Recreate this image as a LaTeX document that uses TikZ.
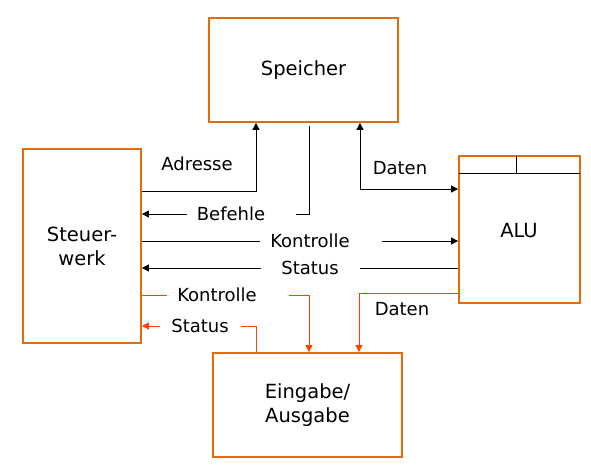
\documentclass[tikz,border=0pt]{standalone}
\usepackage{fontspec}
\setmainfont{DejaVu Sans}
\usetikzlibrary{arrows.meta,calc}
\definecolor{boxorange}{RGB}{228,108,10}
\definecolor{sigred}{RGB}{255,64,0}

\begin{document}
\begin{tikzpicture}[x=1pt,y=-1pt,
  box/.style={draw=boxorange,line width=1.8pt,align=center,font=\fontsize{19.5}{24}\selectfont},
  lbl/.style={font=\fontsize{18}{22}\selectfont,inner sep=0pt},
  sig/.style={line width=0.9pt},
  tip/.style={-{Triangle[length=7pt,width=7pt]}},
  dtip/.style={{Triangle[length=7pt,width=7pt]}-{Triangle[length=7pt,width=7pt]}}]
\useasboundingbox (0,0) rectangle (591,465);
\node (speicher) at (303.5,70) [box,minimum width=189pt,minimum height=104pt] {Speicher};
\node (steuer) at (82,246) [box,minimum width=118pt,minimum height=194pt] {Steuer-\\werk};
\node (alu) at (519.5,229.5) [box,minimum width=121pt,minimum height=147pt] {};
\node (alutext) at (519,231) [font=\fontsize{19.5}{24}\selectfont] {ALU};
\node (eingabe) at (307.5,405) [box,minimum width=189pt,minimum height=104pt] {Eingabe/\\Ausgabe};
\draw [sig] ([xshift=0.9pt]alu.north west |- 0,173) -- ([xshift=-0.9pt]alu.north east |- 0,173);
\draw [sig] ([yshift=-0.9pt]516,0 |- alu.north) -- (516,173);

\node (adresse) at (197,164) [lbl] {Adresse};
\node (befehle) at (231,214) [lbl] {Befehle};
\node (datenOben) at (400,168) [lbl] {Daten};
\node (kontrolle) at (310,241) [lbl] {Kontrolle};
\node (status) at (310,268) [lbl] {Status};
\node (kontrolleIO) at (217,295) [lbl] {Kontrolle};
\node (statusIO) at (200,326) [lbl] {Status};
\node (datenIO) at (402,309) [lbl] {Daten};

\coordinate (befTop) at (309,126);
\coordinate (befGap) at (296,214);
\coordinate (befArr) at (187,214);
\coordinate (konA) at (260,241);
\coordinate (konB) at (382,241);
\coordinate (staA) at (360,268);
\coordinate (staB) at (261,268);
\coordinate (rkA) at (167,295);
\coordinate (rkB) at (289,295);
\coordinate (rsA) at (160,326);
\coordinate (rsB) at (241,326);

\draw [sig,tip] (steuer.east |- 0,191) -| (speicher.south -| 256,0);
\draw [sig] (befTop) |- (befGap);
\draw [sig,tip] (befArr) -- (steuer.east |- befArr);
\draw [sig,dtip] (speicher.south -| 360,0) |- (alu.west |- 0,189);
\draw [sig] (steuer.east |- konA) -- (konA);
\draw [sig,tip] (konB) -- (alu.west |- konB);
\draw [sig] (alu.west |- staA) -- (staA);
\draw [sig,tip] (staB) -- (steuer.east |- staB);
\draw [sig,sigred] (steuer.east |- rkA) -- (rkA);
\draw [sig,sigred,tip] (rkB) -| (eingabe.north -| 309,0);
\draw [sig,sigred,tip] (rsA) -- (steuer.east |- rsA);
\draw [sig,sigred] (rsB) -| (eingabe.north -| 256,0);
\draw [sig,sigred,tip] (alu.west |- 0,293) -| (eingabe.north -| 359,0);
\end{tikzpicture}
\end{document}
